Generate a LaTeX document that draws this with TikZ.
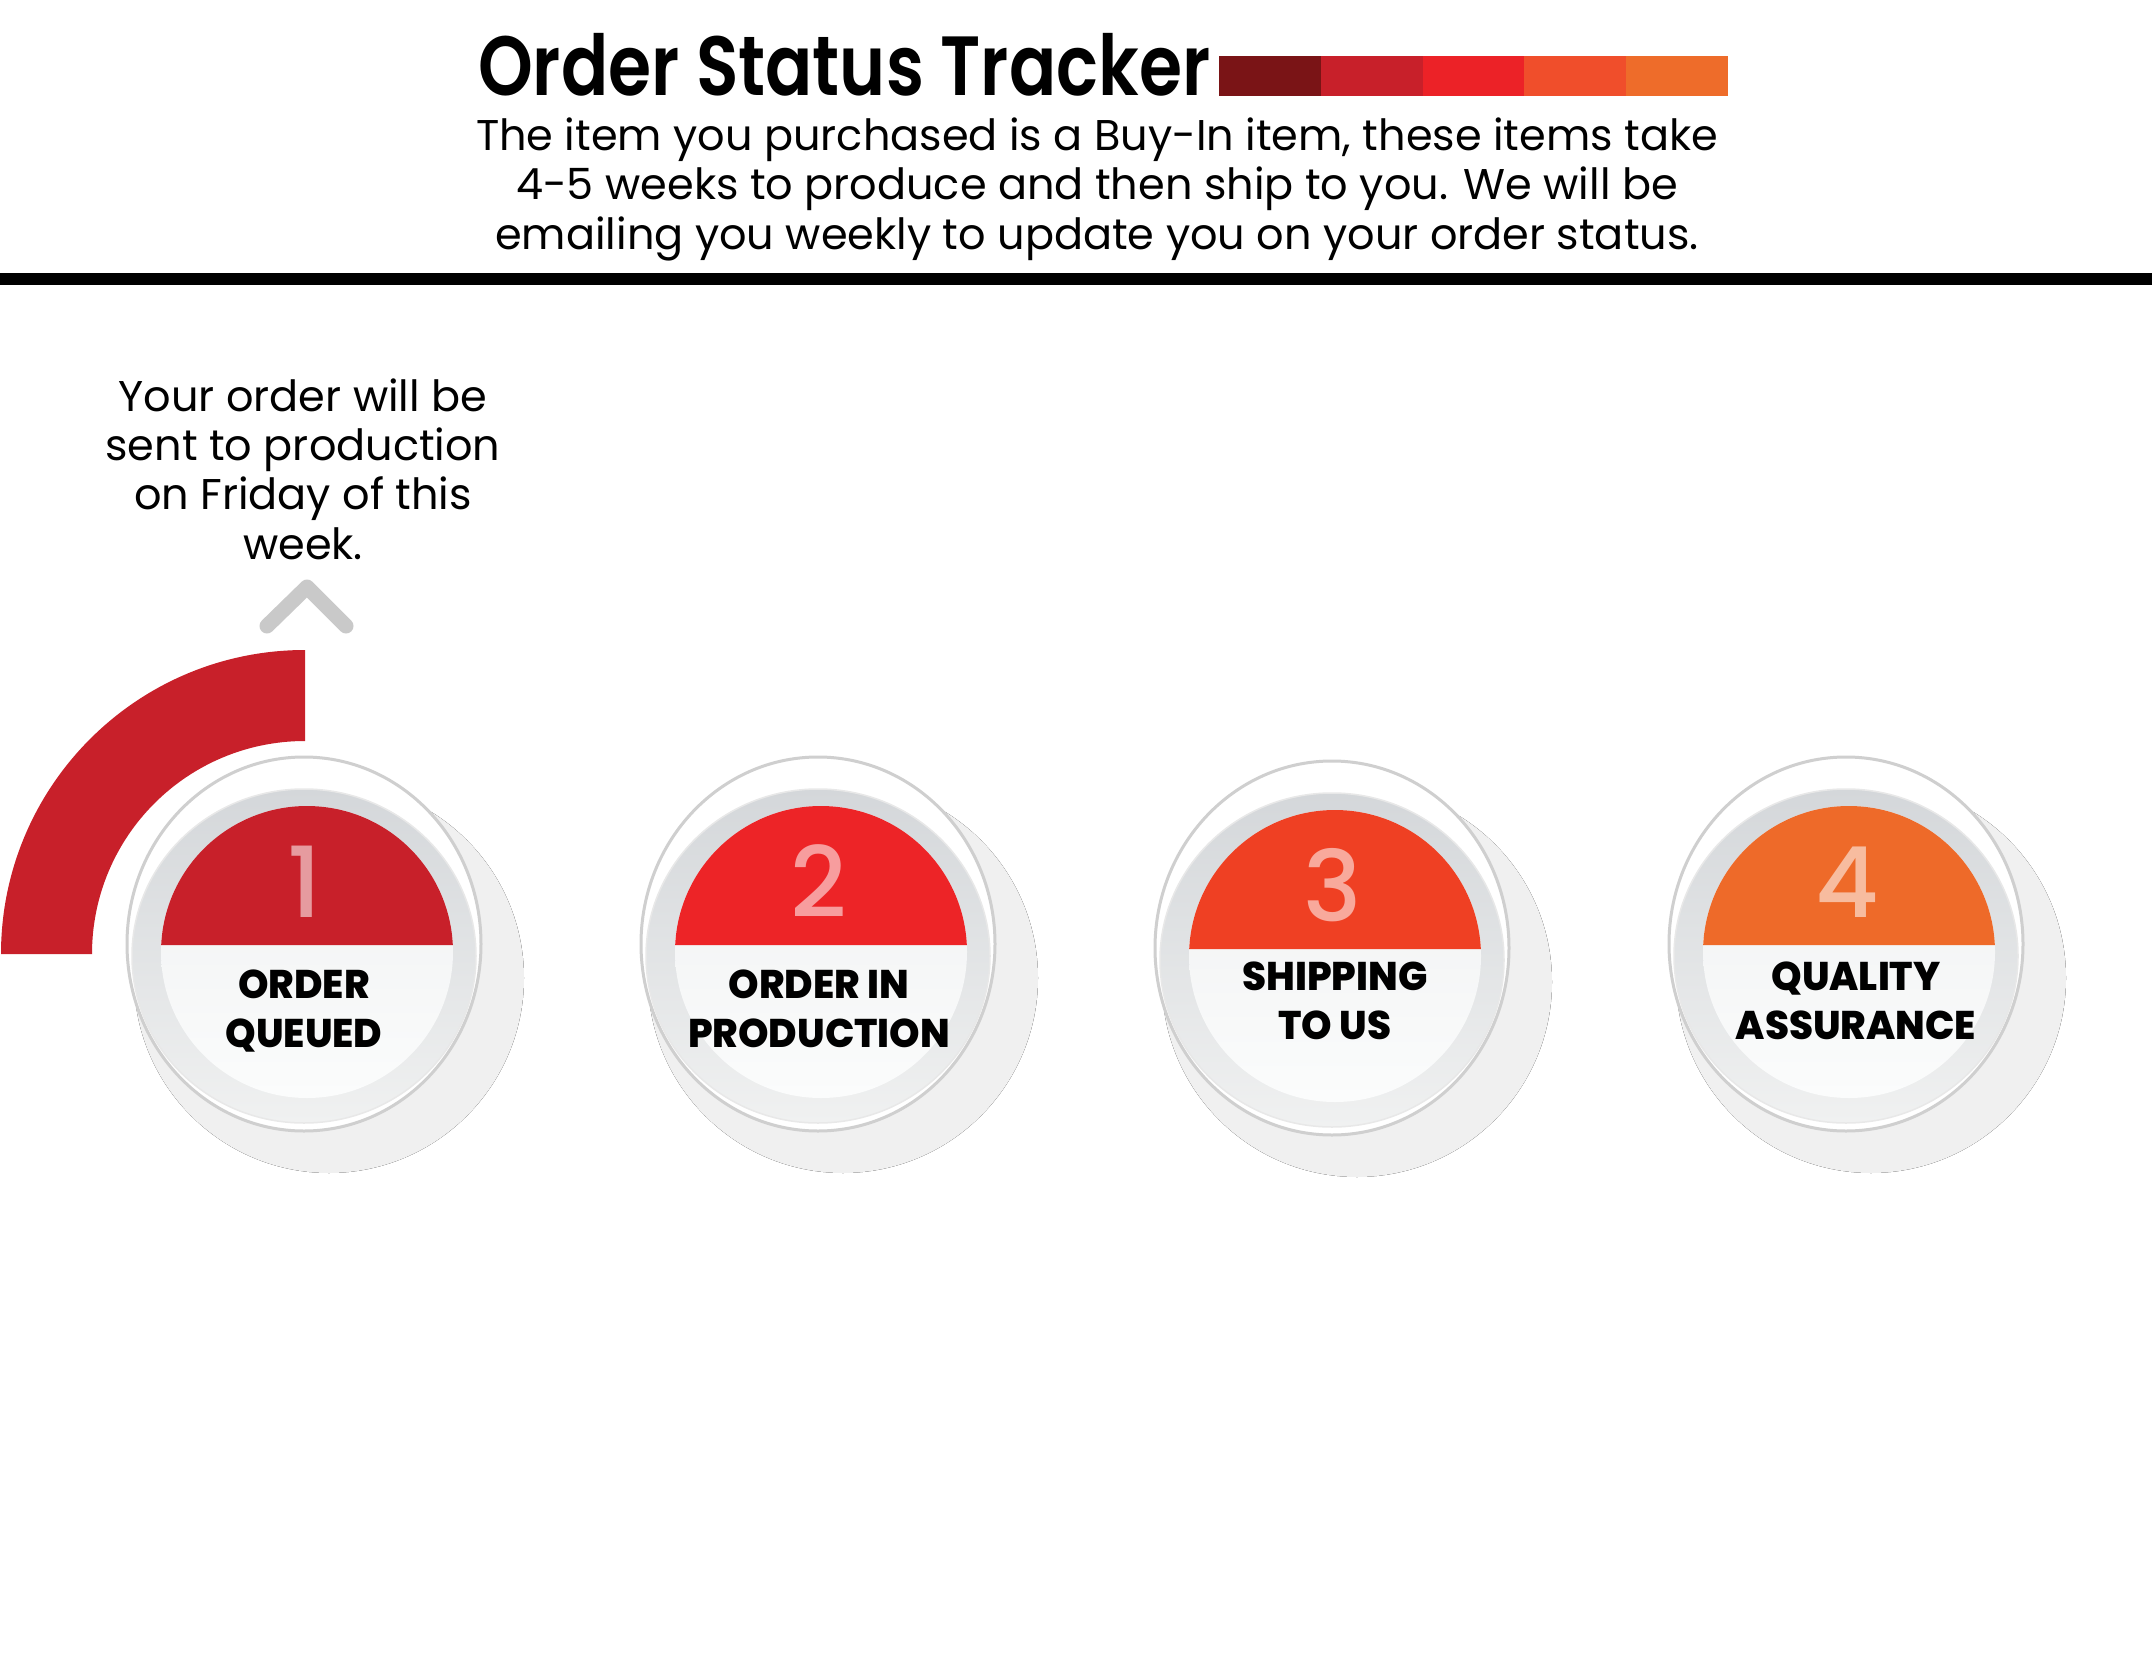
\documentclass[tikz,border=0pt]{standalone}
\usepackage{fontspec}
\usepackage{graphicx}
\setmainfont{Poppins}
\newfontfamily\semibold{Poppins SemiBold}
\newfontfamily\medium{Poppins Medium}
\newfontfamily\xbold{Poppins ExtraBold}
\definecolor{barA}{HTML}{7A1416}
\definecolor{barB}{HTML}{C8202A}
\definecolor{barC}{HTML}{EC2227}
\definecolor{barD}{HTML}{F04E2B}
\definecolor{barE}{HTML}{EE6C2A}
\definecolor{sA}{HTML}{C8202A}
\definecolor{sB}{HTML}{ED2427}
\definecolor{sC}{HTML}{EF4023}
\definecolor{sD}{HTML}{EE6A29}
\definecolor{chev}{HTML}{C9C9C9}
\definecolor{bevTop}{HTML}{D4D7DA}
\definecolor{bevBot}{HTML}{F0F1F1}
\definecolor{faceTop}{HTML}{EFF0F1}
\definecolor{faceBot}{HTML}{FBFCFC}
\definecolor{rim}{HTML}{CFCFCF}
\pgfdeclareradialshading{softshadow}{\pgfpoint{0bp}{0bp}}{color(0bp)=(black!6); color(38bp)=(black!6); color(44bp)=(black!3); color(50bp)=(white); color(100bp)=(white)}
\tikzset{
  bodytext/.style={anchor=base, inner sep=0pt, font=\fontsize{43}{50}\selectfont},
  sidetext/.style={anchor=base, inner sep=0pt, font=\fontsize{43}{49}\selectfont},
  steplabel/.style={anchor=base, inner sep=0pt, font=\xbold\fontsize{40}{46}\selectfont},
  stepnum/.style={anchor=base, inner sep=0pt, font=\medium\fontsize{98}{100}\selectfont},
}
\newcommand{\stepdisc}[9]{%
  \fill[shading=softshadow] ({#2+22},{#3+26}) circle (195);
  \filldraw[fill=white, draw=rim, line width=3] ({#2-3},{#3-8}) ellipse [x radius=177, y radius=187];
  \shade[top color=bevTop, bottom color=bevBot, draw=black!9, line width=1.5] ({#2-3},{#3+4}) ellipse [x radius=172, y radius=167];
  \shade[top color=faceTop, bottom color=faceBot] (#2,#3) circle (146);
  \fill[#4] (#2,#3) ++(182.75:146) arc[start angle=182.75, end angle=357.25, radius=146] -- cycle;
  \node[stepnum, text=#4!45!white] (#1-num) at ({#2-2},{#3-35}) {#5};
  \node[steplabel] (#1-l1) at ({#2+#9},{#3+#8}) {\scalebox{0.97}[1]{#6}};
  \node[steplabel] (#1-l2) at ({#2+#9},{#3+#8+49}) {\scalebox{0.97}[1]{#7}};
}
\begin{document}
\begin{tikzpicture}[x=1pt,y=-1pt]
\useasboundingbox (0,0) rectangle (2152,1653);
\fill[white] (0,0) rectangle (2152,1653);
% header
\node[anchor=base west, inner sep=0pt, font=\semibold\fontsize{84}{90}\selectfont] (title) at (478,96) {\scalebox{0.83}[1]{Order Status Tracker}};
\fill[barA] (1219,56) rectangle (1321,96);
\fill[barB] (1321,56) rectangle (1423,96);
\fill[barC] (1423,56) rectangle (1524,96);
\fill[barD] (1524,56) rectangle (1626,96);
\fill[barE] (1626,56) rectangle (1728,96);
\node[bodytext] (body1) at (1097,151) {The item you purchased is a Buy-In item, these items take};
\node[bodytext] (body2) at (1097,200) {4-5 weeks to produce and then ship to you. We will be};
\node[bodytext] (body3) at (1097,250) {emailing you weekly to update you on your order status.};
\draw[line width=12] (0,279) -- (2152,279);
% side note
\node[sidetext] (note1) at (303,411) {Your order will be};
\node[sidetext] (note2) at (303,460) {sent to production};
\node[sidetext] (note3) at (303,509) {on Friday of this};
\node[sidetext] (note4) at (303,559) {week.};
\draw[chev, line width=15, line cap=round, line join=round] (267,626) -- (307,587) -- (346,626);
% red progress arc
\fill[sA] (305,650) arc[start angle=-90, end angle=-180, radius=304] -- (92,954) arc[start angle=180, end angle=270, radius=213] -- cycle;
% steps
\stepdisc{s1}{307}{952}{sA}{1}{ORDER}{QUEUED}{46}{-3}
\stepdisc{s2}{821}{952}{sB}{2}{ORDER IN}{PRODUCTION}{46}{-2}
\stepdisc{s3}{1335}{956}{sC}{3}{SHIPPING}{TO US}{34}{0}
\stepdisc{s4}{1849}{952}{sD}{4}{QUALITY}{ASSURANCE}{38}{7}
\end{tikzpicture}
\end{document}
